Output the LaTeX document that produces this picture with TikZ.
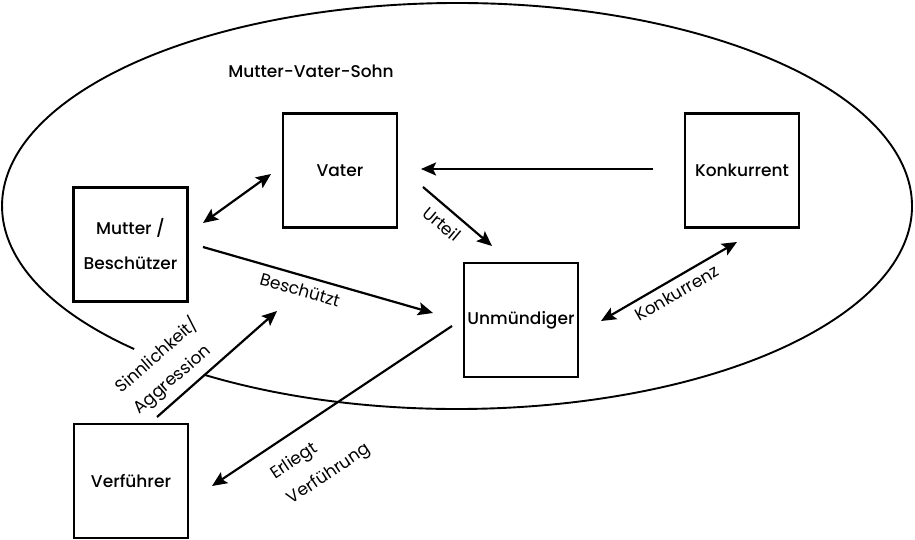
\documentclass[tikz,border=0pt]{standalone}
\usepackage{fontspec}
\setmainfont{Poppins}
\IfFontExistsTF{Poppins Medium}{\newfontfamily\boxfont{Poppins Medium}}{\newfontfamily\boxfont{Poppins}}
\newfontfamily\lblfont{Poppins}
\usetikzlibrary{arrows.meta}
\tikzset{
  person/.style={draw, line width=2.3pt, minimum width=114pt, minimum height=114pt, inner sep=0pt, align=center, font=\boxfont\fontsize{17}{35}\selectfont},
  tip/.tip={Stealth[length=15pt,width=13pt,inset=3pt]},
  conn/.style={line width=2.2pt, -tip},
  dconn/.style={line width=2.2pt, tip-tip},
  elabel/.style={inner sep=0pt, align=left, font=\lblfont\fontsize{17}{28}\selectfont},
}
\begin{document}
\begin{tikzpicture}[x=1pt,y=1pt]
\useasboundingbox[fill=white] (0,0) rectangle (915,-540);
% family circle (open on lower left)
\coordinate (ec) at (457,-206);
\draw[line width=1.9pt] (ec) ++(236.2:455 and 203) arc[start angle=236.2, end angle=584.8, x radius=455, y radius=203];
\node[font=\boxfont\fontsize{17}{20}\selectfont] (title) at (311,-71) {Mutter-Vater-Sohn};
% persons
\node[person] (M) at (130.5,-244.5) {Mutter /\\Beschützer};
\node[person] (V) at (340,-170.5) {Vater};
\node[person] (K) at (742,-170.5) {Konkurrent};
\node[person] (U) at (521,-320) {Unmündiger};
\node[person] (F) at (131,-481) {Verführer};
% connector ends
\coordinate (m1) at (203,-223);
\coordinate (v1) at (271,-174);
\coordinate (k1) at (653,-169);
\coordinate (v2) at (421,-169);
\coordinate (v3) at (423,-187);
\coordinate (u1) at (492,-246);
\coordinate (m2) at (203,-247);
\coordinate (u2) at (433,-313);
\coordinate (f1) at (157,-417);
\coordinate (b1) at (277,-311);
\coordinate (u3) at (452,-326);
\coordinate (f2) at (212,-486);
\coordinate (u4) at (601,-321);
\coordinate (k2) at (737,-242);
% connectors
\draw[dconn] (m1) -- (v1);
\draw[conn] (k1) -- (v2);
\draw[conn] (v3) -- (u1);
\draw[conn] (m2) -- (u2);
\draw[conn] (f1) -- (b1);
\draw[conn] (u3) -- (f2);
\draw[dconn] (u4) -- (k2);
% labels
\node[elabel, rotate=-40] (lu) at (442,-224) {Urteil};
\node[elabel, rotate=-16] (lb) at (300,-290) {Beschützt};
\node[elabel, rotate=41] (ls) at (166,-366) {Sinnlichkeit/\\Aggression};
\node[elabel, rotate=33.6, font=\lblfont\fontsize{17}{30}\selectfont] (le) at (321,-462) {Erliegt\\Verführung};
\node[elabel, rotate=30] (lk) at (677,-293) {Konkurrenz};
\end{tikzpicture}
\end{document}
